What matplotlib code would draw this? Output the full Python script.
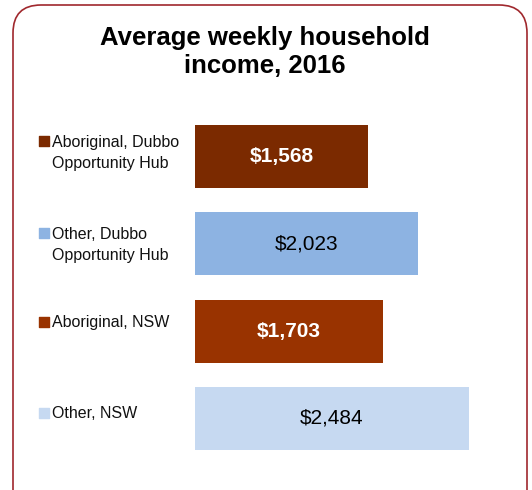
import matplotlib.pyplot as plt
import matplotlib.patches as patches
from matplotlib.transforms import IdentityTransform

plt.rcParams['font.family'] = ['Liberation Sans', 'DejaVu Sans']

# data
categories = ["Aboriginal, Dubbo\nOpportunity Hub", "Other, Dubbo\nOpportunity Hub",
              "Aboriginal, NSW", "Other, NSW"]
income = [1568, 2023, 1703, 2484]
bar_colors = ["#7B2A00", "#8DB3E2", "#993300", "#C6D9F1"]
value_colors = ["white", "black", "white", "black"]
value_weights = ["bold", "normal", "bold", "normal"]
title_lines = ["Average weekly household", "income, 2016"]

# baseline of first label line relative to bar centre (data units)
label_offsets = [-0.112, -0.066, -0.044, -0.001]
line_step = 0.246  # one text line in data units

fig = plt.figure(figsize=(5.32, 4.90), dpi=100)
ax = fig.add_axes([0.3665, 0.0569, 0.5733, 0.7129])

y = list(range(len(categories)))
ax.barh(y, income, height=0.72, color=bar_colors)
ax.set_xlim(0, 2765)
ax.set_ylim(3.5, -0.5)
ax.axis('off')

for i, (val, col, w) in enumerate(zip(income, value_colors, value_weights)):
    ax.text(val / 2, i, f"${val:,}", ha='center', va='center', color=col,
            fontsize=15, fontweight=w)

# category labels with coloured squares
for i, (lab, col, off) in enumerate(zip(categories, bar_colors, label_offsets)):
    nlines = lab.count("\n") + 1
    ax.text(-0.469, i + off + (nlines - 1) * line_step, lab,
            transform=ax.get_yaxis_transform(),
            ha='left', va='baseline', fontsize=11.5, color='#111111',
            linespacing=1.5, clip_on=False)
    ax.scatter([-0.495], [i + off - 0.063], marker='s', s=50, color=col,
               transform=ax.get_yaxis_transform(), clip_on=False)

fig.text(0.498, 1 - 45 / 490, title_lines[0], ha='center', va='baseline',
         fontsize=18.5, fontweight='bold')
fig.text(0.498, 1 - 73 / 490, title_lines[1], ha='center', va='baseline',
         fontsize=18.5, fontweight='bold')

# rounded border
border = patches.FancyBboxPatch((13, -30), 514, 515,
                                boxstyle="round,pad=0,rounding_size=28",
                                transform=IdentityTransform(), fill=False,
                                edgecolor='#A0282D', linewidth=1.2)
fig.patches.append(border)

fig.savefig("out.png", dpi=100)
